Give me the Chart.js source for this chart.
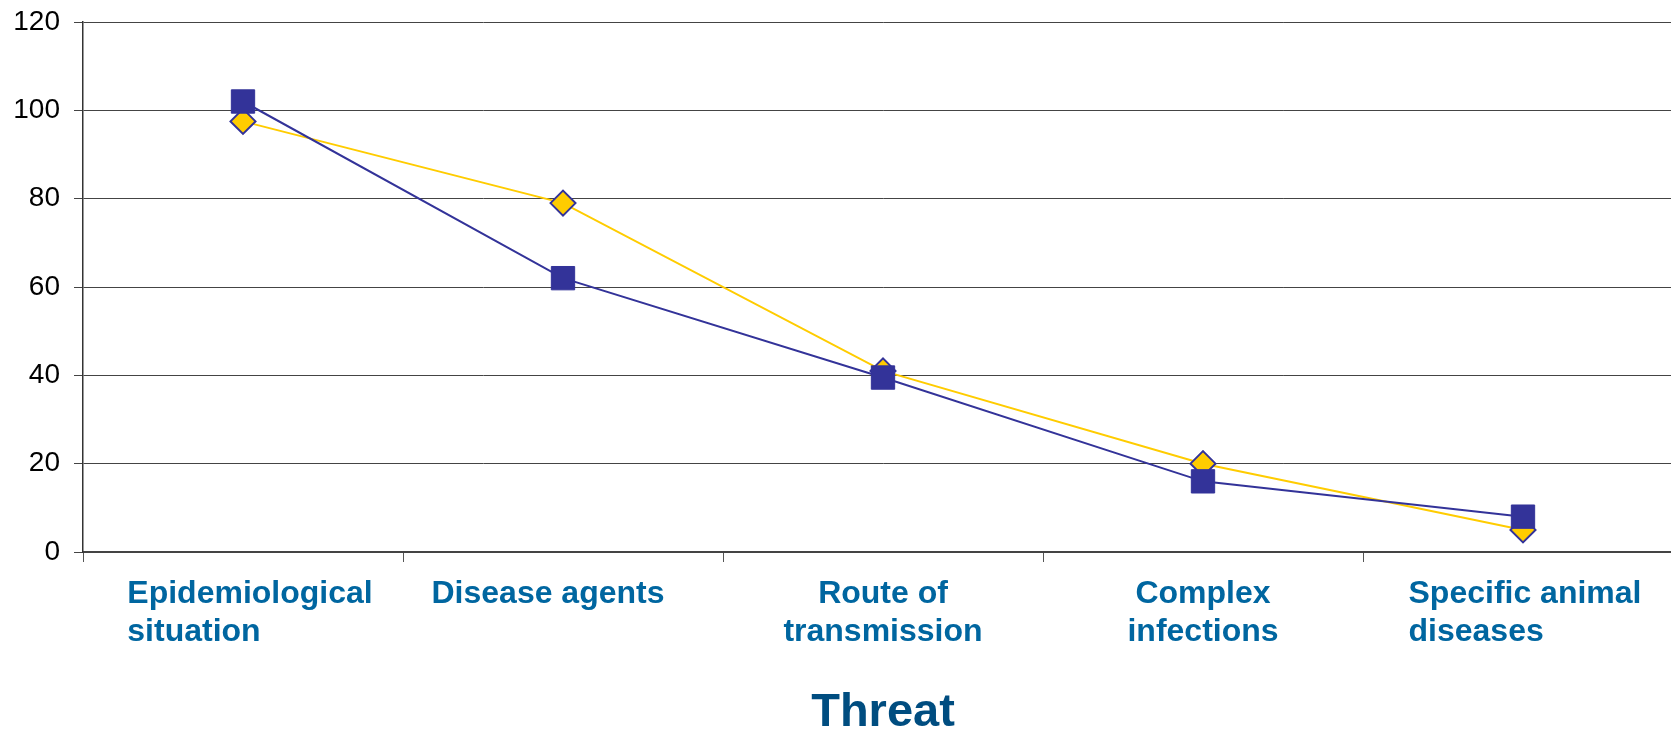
<!DOCTYPE html>
<html>
<head>
<meta charset="utf-8">
<script src="https://cdn.jsdelivr.net/npm/chart.js@4.4.1/dist/chart.umd.min.js"></script>
<style>
  html, body { margin: 0; padding: 0; background: #fff; overflow: hidden; }
  #wrap { width: 1671px; height: 732px; overflow: hidden; position: relative; }
  #chart { position: absolute; left: 0; top: 0; }
</style>
</head>
<body>
<div id="wrap"><canvas id="chart" width="1683" height="732"></canvas></div>
<script>
// Threat categories (x axis), one array per wrapped label
const categories = [
  ['Epidemiological', 'situation'],
  ['Disease agents'],
  ['Route of', 'transmission'],
  ['Complex', 'infections'],
  ['Specific animal', 'diseases']
];
// series values
const squareSeries = [102, 62, 39.5, 16, 8];
const diamondSeries = [97.5, 79, 41, 20, 5];
const yTicks = [0, 20, 40, 60, 80, 100, 120];

const FONT = "'Liberation Sans', Arial, sans-serif";

// draws the wrapped category labels the way the original lays them out
const categoryLabels = {
  id: 'categoryLabels',
  afterDraw(chart) {
    const ctx = chart.ctx;
    const xs = chart.scales.x;
    const align = ['left', 'center', 'center', 'center', 'left'];
    const nudge = [7, -15, 0, 0, 2];
    ctx.save();
    ctx.font = 'bold 32px ' + FONT;
    ctx.fillStyle = '#0066a0';
    ctx.textBaseline = 'alphabetic';
    categories.forEach((lines, i) => {
      const cx = xs.getPixelForValue(i) + nudge[i];
      const blockW = Math.max(...lines.map(l => ctx.measureText(l).width));
      lines.forEach((line, j) => {
        const y = xs.top + 51 + j * 38;
        if (align[i] === 'left') {
          ctx.textAlign = 'left';
          ctx.fillText(line, cx - blockW / 2, y);
        } else {
          ctx.textAlign = 'center';
          ctx.fillText(line, cx, y);
        }
      });
    });
    ctx.restore();
  }
};

new Chart(document.getElementById('chart'), {
  type: 'line',
  data: {
    labels: categories,
    datasets: [
      {
        data: squareSeries,
        borderColor: '#333399',
        borderWidth: 2,
        backgroundColor: '#333399',
        pointStyle: 'rect',
        pointRadius: 16.5,
        pointBorderWidth: 1,
        pointBorderColor: '#333399',
        pointBackgroundColor: '#333399',
        tension: 0
      },
      {
        data: diamondSeries,
        borderColor: '#ffcc00',
        borderWidth: 2,
        backgroundColor: '#ffcc00',
        pointStyle: 'rectRot',
        pointRadius: 12.5,
        pointBorderWidth: 2,
        pointBorderColor: '#333399',
        pointBackgroundColor: '#ffcc00',
        tension: 0
      }
    ]
  },
  options: {
    responsive: false,
    animation: false,
    layout: { autoPadding: false, padding: { top: 22, left: 0, right: 0, bottom: 0 } },
    plugins: {
      legend: { display: false },
      tooltip: { enabled: false }
    },
    scales: {
      x: {
        offset: true,
        grid: {
          offset: true,
          drawOnChartArea: false,
          drawTicks: true,
          tickLength: 10,
          color: '#555'
        },
        border: { display: true, color: '#444', width: 2 },
        ticks: { display: false },
        title: {
          display: true,
          text: 'Threat',
          color: '#004d80',
          font: { family: FONT, size: 47, weight: 'bold', lineHeight: 0.8 },
          padding: { top: 0, bottom: 0 }
        },
        afterFit(scale) { scale.height = 180; }
      },
      y: {
        min: 0,
        max: 120,
        afterBuildTicks(scale) { scale.ticks = yTicks.map(v => ({ value: v })); },
        grid: {
          color: '#444',
          lineWidth: 1,
          drawTicks: true,
          tickLength: 9
        },
        border: { display: true, color: '#333', width: 1.5 },
        ticks: {
          color: '#000',
          padding: 14,
          font: { family: FONT, size: 28 }
        },
        afterFit(scale) {
          scale.width = 83;
          scale.paddingTop = 0;
          scale.paddingBottom = 0;
        }
      }
    }
  },
  plugins: [categoryLabels]
});
</script>
</body>
</html>
